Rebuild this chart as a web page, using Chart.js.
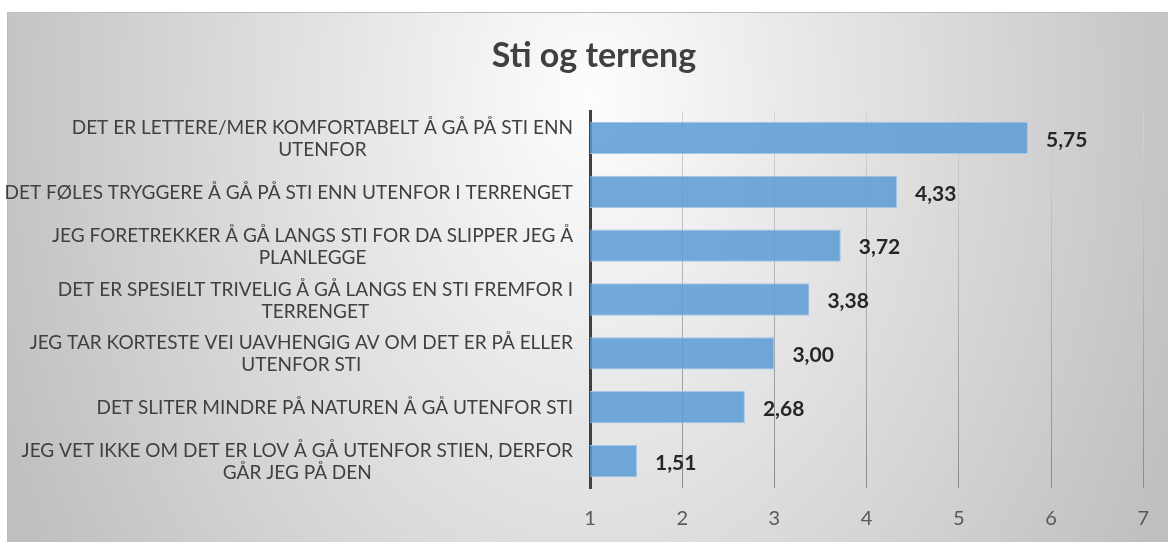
<!DOCTYPE html>
<html>
<head>
<meta charset="utf-8">
<script src="https://cdn.jsdelivr.net/npm/chart.js@4"></script>
<style>
  html, body { margin: 0; padding: 0; background: #fff; }
  canvas { display: block; }
</style>
</head>
<body>
<canvas id="chart" width="1168" height="542"></canvas>
<script>
const title = 'Sti og terreng'
const categories = [
  ['DET ER LETTERE/MER KOMFORTABELT Å GÅ PÅ STI ENN', 'UTENFOR'],
  ['DET FØLES TRYGGERE Å GÅ PÅ STI ENN UTENFOR I TERRENGET'],
  ['JEG FORETREKKER Å GÅ LANGS STI FOR DA SLIPPER JEG Å', 'PLANLEGGE'],
  ['DET ER SPESIELT TRIVELIG Å GÅ LANGS EN STI FREMFOR I', 'TERRENGET'],
  ['JEG TAR KORTESTE VEI UAVHENGIG AV OM DET ER PÅ ELLER', 'UTENFOR STI'],
  ['DET SLITER MINDRE PÅ NATUREN Å GÅ UTENFOR STI'],
  ['JEG VET IKKE OM DET ER LOV Å GÅ UTENFOR STIEN, DERFOR', 'GÅR JEG PÅ DEN']
]
const scores = [5.75, 4.33, 3.72, 3.38, 3.00, 2.68, 1.51]
const xTicks = [1, 2, 3, 4, 5, 6, 7]

const FONT = 'Lato, "Open Sans", sans-serif'

// grey radial background + frame, like the office chart area
const background = {
  id: 'background',
  beforeDraw(chart) {
    const ctx = chart.ctx
    const w = chart.width, h = chart.height
    ctx.save()
    ctx.fillStyle = '#ffffff'
    ctx.fillRect(0, 0, w, h)
    const cx = 590, cy = 100, rx = 640, ry = 900
    ctx.beginPath()
    ctx.rect(7, 12, w - 7, h - 12)
    ctx.clip()
    ctx.translate(cx, cy)
    ctx.scale(1, ry / rx)
    const g = ctx.createRadialGradient(0, 0, 0, 0, 0, rx)
    g.addColorStop(0, '#fdfdfd')
    g.addColorStop(1, '#bfbfbf')
    ctx.fillStyle = g
    ctx.fillRect(-cx, -cy * rx / ry, w, h * rx / ry)
    ctx.restore()
    ctx.save()
    ctx.strokeStyle = '#bcbcbc'
    ctx.lineWidth = 1
    ctx.beginPath()
    ctx.moveTo(7.5, h)
    ctx.lineTo(7.5, 12.5)
    ctx.lineTo(w, 12.5)
    ctx.stroke()
    ctx.restore()
  }
}

// title, category labels (centred lines, right-aligned block) and value labels
const texts = {
  id: 'texts',
  afterDraw(chart) {
    const ctx = chart.ctx
    ctx.save()
    ctx.fillStyle = '#404040'
    ctx.font = 'bold 34px ' + FONT
    ctx.textAlign = 'center'
    ctx.textBaseline = 'middle'
    ctx.fillText(title, 594, 56)

    const yScale = chart.scales.y
    ctx.font = '19px ' + FONT
    ctx.fillStyle = '#404040'
    const right = 573, lh = 22
    categories.forEach((lines, i) => {
      const yc = yScale.getPixelForTick(i) + 1
      const bw = Math.max(...lines.map(l => ctx.measureText(l).width))
      const xc = right - bw / 2
      lines.forEach((l, j) => {
        ctx.fillText(l, xc, yc + (j - (lines.length - 1) / 2) * lh)
      })
    })

    const meta = chart.getDatasetMeta(0)
    ctx.font = 'bold 21px ' + FONT
    ctx.fillStyle = '#262626'
    ctx.textAlign = 'left'
    meta.data.forEach((bar, i) => {
      ctx.fillText(scores[i].toFixed(2).replace('.', ','), bar.x + 18, bar.y + 2)
    })
    ctx.restore()
  }
}

new Chart(document.getElementById('chart'), {
  type: 'bar',
  data: {
    labels: categories,
    datasets: [{
      data: scores,
      backgroundColor: 'rgba(91,155,213,0.85)',
      borderColor: 'rgba(160,197,232,0.95)',
      borderWidth: 1,
      borderSkipped: 'start',
      barPercentage: 0.6,
      categoryPercentage: 1
    }]
  },
  options: {
    indexAxis: 'y',
    responsive: false,
    animation: false,
    devicePixelRatio: 1,
    layout: { padding: { left: 7, right: 22, top: 111, bottom: 0 } },
    plugins: { legend: { display: false }, tooltip: { enabled: false }, title: { display: false } },
    scales: {
      x: {
        min: 1, max: 7,
        afterBuildTicks: s => { s.ticks = xTicks.map(v => ({ value: v })) },
        afterFit: s => { s.height = 54 },
        border: { display: false },
        grid: {
          drawTicks: false,
          color: c => {
            const a = c.chart.chartArea
            if (!a) return '#aaaaaa'
            const g = c.chart.ctx.createLinearGradient(0, a.top, 0, a.bottom)
            g.addColorStop(0, '#d4d4d4')
            g.addColorStop(1, '#8c8c8c')
            return g
          }
        },
        ticks: { padding: 19, color: '#595959', font: { family: FONT, size: 20 } }
      },
      y: {
        afterFit: s => { s.width = 583 },
        grid: { display: false },
        border: { display: true, color: '#404040', width: 3 },
        ticks: { display: false }
      }
    }
  },
  plugins: [background, texts]
})
</script>
</body>
</html>
